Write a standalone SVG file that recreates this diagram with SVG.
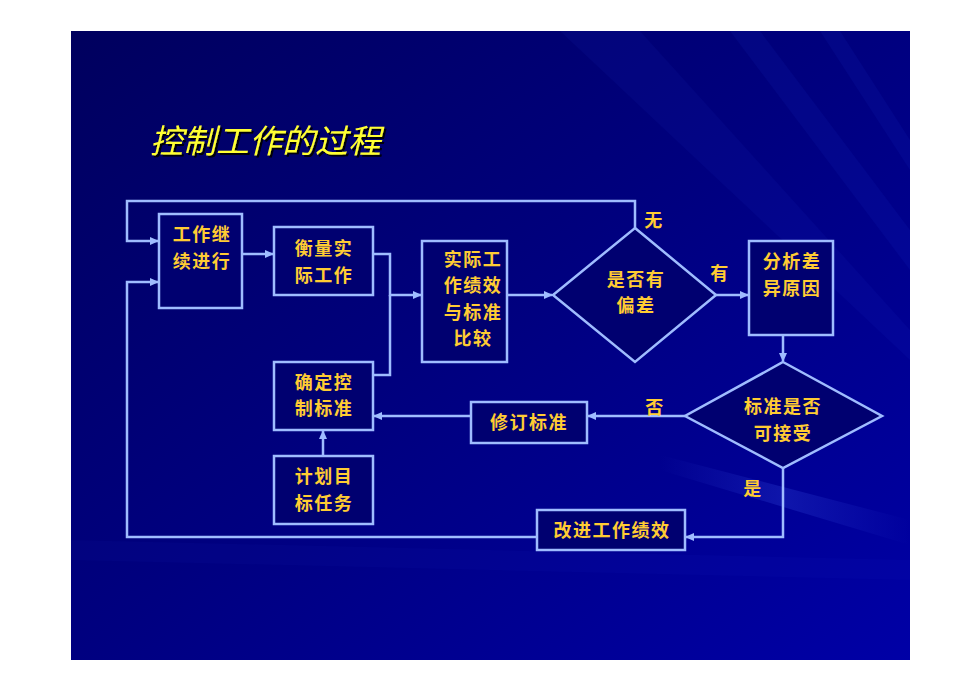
<svg xmlns="http://www.w3.org/2000/svg" width="980" height="692" viewBox="0 0 980 692">
<defs>
<linearGradient id="bg" x1="0" y1="0" x2="1" y2="1">
<stop offset="0" stop-color="#00005e"/>
<stop offset="0.5" stop-color="#000080"/>
<stop offset="1" stop-color="#0000a6"/>
</linearGradient>
<linearGradient id="streak" x1="0" y1="0" x2="1" y2="0">
<stop offset="0" stop-color="#4a6cff" stop-opacity="0"/>
<stop offset="0.5" stop-color="#4a6cff" stop-opacity="0.2"/>
<stop offset="1" stop-color="#4a6cff" stop-opacity="0"/>
</linearGradient>
<marker id="arr" markerUnits="userSpaceOnUse" markerWidth="9" markerHeight="8" refX="8" refY="4" orient="auto">
<path d="M0,0 L9,4 L0,8 z" fill="#9fbcff"/>
</marker>
<filter id="shadow" x="-10%" y="-20%" width="130%" height="150%">
<feDropShadow dx="2" dy="2" stdDeviation="0.6" flood-color="#000000" flood-opacity="0.9"/>
</filter>
</defs>
<style>
.box{fill:#000070;stroke:#9fbcff;stroke-width:2.5}
.conn{fill:none;stroke:#9fbcff;stroke-width:2.5}
.t{font-family:"Noto Sans CJK SC","Noto Sans CJK TC",sans-serif;font-weight:bold;font-size:18px;letter-spacing:1.5px;fill:#ffcc33;text-anchor:middle}
.title{font-family:"Noto Sans CJK SC",sans-serif;font-size:33px;font-style:italic;fill:#ffff33}
</style>
<rect width="980" height="692" fill="#ffffff"/>
<rect x="71" y="31" width="839" height="629" fill="url(#bg)"/>
<g id="streaks">
<polygon points="660,455 910,520 910,545 660,470" fill="url(#streak)"/>
<polygon points="560,31 640,31 910,330 910,360" fill="#3050ff" opacity="0.06"/>
<polygon points="730,31 760,31 910,230 910,270" fill="#3050ff" opacity="0.07"/>
<polygon points="820,31 840,31 910,140 910,170" fill="#3050ff" opacity="0.07"/>
<polygon points="71,540 910,560 910,580 71,560" fill="#3050ff" opacity="0.04"/>
</g>
<text class="title" x="150" y="153" filter="url(#shadow)">控制工作的过程</text>
<g id="connectors">
<path class="conn" d="M635,228 V201 H127 V241 H158" marker-end="url(#arr)"/>
<path class="conn" d="M537,537 H127 V282 H158" marker-end="url(#arr)"/>
<path class="conn" d="M242,254 H273" marker-end="url(#arr)"/>
<path class="conn" d="M373,254 H390 V295 H421" marker-end="url(#arr)"/>
<path class="conn" d="M373,375 H390 V295"/>
<path class="conn" d="M507,295 H552" marker-end="url(#arr)"/>
<path class="conn" d="M716,295 H748" marker-end="url(#arr)"/>
<path class="conn" d="M783,335 V361" marker-end="url(#arr)"/>
<path class="conn" d="M685,416 H588" marker-end="url(#arr)"/>
<path class="conn" d="M471,416 H374" marker-end="url(#arr)"/>
<path class="conn" d="M323,456 V431" marker-end="url(#arr)"/>
<path class="conn" d="M783,468 V537 H686" marker-end="url(#arr)"/>
</g>
<g id="n-continue">
<rect class="box" x="159" y="214" width="83" height="94"/>
<text class="t" x="202" y="241"><tspan x="202">工作继</tspan><tspan x="202" dy="26.5">续进行</tspan></text>
</g>
<g id="n-measure">
<rect class="box" x="274" y="227" width="99" height="68"/>
<text class="t" x="324" y="255"><tspan x="324">衡量实</tspan><tspan x="324" dy="26.5">际工作</tspan></text>
</g>
<g id="n-compare">
<rect class="box" x="422" y="241" width="85" height="121"/>
<text class="t" x="473" y="265.5"><tspan x="473">实际工</tspan><tspan x="473" dy="26.5">作绩效</tspan><tspan x="473" dy="26.5">与标准</tspan><tspan x="473" dy="26.5">比较</tspan></text>
</g>
<g id="n-deviation">
<polygon class="box" points="635,228 716,295 635,362 553,295"/>
<text class="t" x="636" y="285.5"><tspan x="636">是否有</tspan><tspan x="636" dy="26.5">偏差</tspan></text>
</g>
<g id="n-analyze">
<rect class="box" x="749" y="241" width="84" height="94"/>
<text class="t" x="792" y="268"><tspan x="792">分析差</tspan><tspan x="792" dy="26.5">异原因</tspan></text>
</g>
<g id="n-acceptable">
<polygon class="box" points="783,362 882,416 783,468 685,416"/>
<text class="t" x="783" y="413"><tspan x="783">标准是否</tspan><tspan x="783" dy="26.5">可接受</tspan></text>
</g>
<g id="n-revise">
<rect class="box" x="471" y="402" width="116" height="41"/>
<text class="t" x="529" y="429">修订标准</text>
</g>
<g id="n-standard">
<rect class="box" x="274" y="362" width="99" height="68"/>
<text class="t" x="324" y="388.5"><tspan x="324">确定控</tspan><tspan x="324" dy="26.5">制标准</tspan></text>
</g>
<g id="n-plan">
<rect class="box" x="274" y="456" width="99" height="68"/>
<text class="t" x="324" y="483"><tspan x="324">计划目</tspan><tspan x="324" dy="26.5">标任务</tspan></text>
</g>
<g id="n-improve">
<rect class="box" x="537" y="510" width="148" height="40"/>
<text class="t" x="612" y="537">改进工作绩效</text>
</g>
<g id="labels">
<text class="t" x="654" y="227">无</text>
<text class="t" x="720" y="280">有</text>
<text class="t" x="655" y="414">否</text>
<text class="t" x="753" y="495">是</text>
</g>
</svg>
